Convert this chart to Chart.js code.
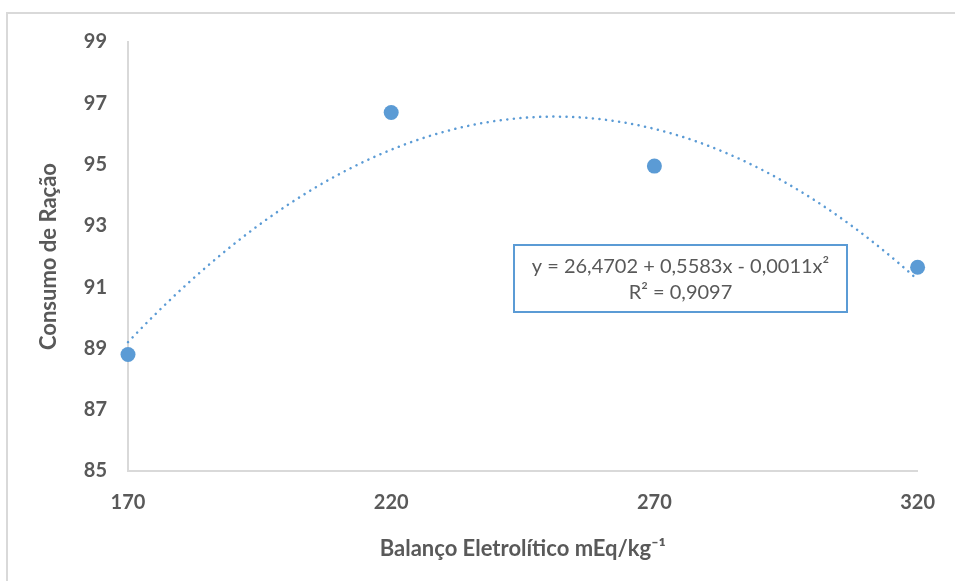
<!DOCTYPE html>
<html>
<head>
<meta charset="utf-8">
<script src="https://cdn.jsdelivr.net/npm/chart.js@4"></script>
<style>
  html, body { margin: 0; padding: 0; background: #ffffff; }
  #wrap { width: 955px; height: 581px; position: relative; }
  canvas { display: block; }
</style>
</head>
<body>
<div id="wrap"><canvas id="c" width="955" height="581"></canvas></div>
<script>
// ---- data ----
const balanco = [170, 220, 270, 320];
const consumo = [88.8, 96.7, 94.95, 91.65];
const yTicks = [85, 87, 89, 91, 93, 95, 97, 99];
const xTicks = [170, 220, 270, 320];
const xTitle = 'Balanço Eletrolítico mEq/kg⁻¹';
const yTitle = 'Consumo de Ração';
const eqLine1 = 'y = 26,4702 + 0,5583x - 0,0011x²';
const eqLine2 = 'R² = 0,9097';

// ---- least-squares quadratic (the trendline of the reference) ----
function quadFit(xs, ys) {
  const n = xs.length;
  let s = [0, 0, 0, 0, 0], t = [0, 0, 0];
  for (let i = 0; i < n; i++) {
    let p = 1;
    for (let k = 0; k < 5; k++) { s[k] += p; if (k < 3) t[k] += p * ys[i]; p *= xs[i]; }
  }
  const M = [[s[0], s[1], s[2], t[0]], [s[1], s[2], s[3], t[1]], [s[2], s[3], s[4], t[2]]];
  for (let i = 0; i < 3; i++) {
    for (let j = i + 1; j < 3; j++) {
      const f = M[j][i] / M[i][i];
      for (let k = i; k < 4; k++) M[j][k] -= f * M[i][k];
    }
  }
  const c = [0, 0, 0];
  for (let i = 2; i >= 0; i--) {
    let v = M[i][3];
    for (let k = i + 1; k < 3; k++) v -= M[i][k] * c[k];
    c[i] = v / M[i][i];
  }
  return c;
}
const coef = quadFit(balanco, consumo);
const trend = [];
const xMin = balanco[0], xMax = balanco[balanco.length - 1];
for (let i = 0; i <= 80; i++) {
  const x = xMin + (xMax - xMin) * i / 80;
  trend.push({ x: x, y: coef[0] + coef[1] * x + coef[2] * x * x });
}
const points = balanco.map((x, i) => ({ x: x, y: consumo[i] }));

const BLUE = '#5B9BD5';
const GREY_TXT = '#595959';
const AXIS = '#D9D9D9';
const FONT = 'Lato, Carlito, Calibri, sans-serif';

const frame = {
  id: 'frame',
  beforeDraw(chart) {
    const ctx = chart.ctx;
    ctx.save();
    ctx.fillStyle = '#ffffff';
    ctx.fillRect(0, 0, chart.width, chart.height);
    ctx.strokeStyle = '#D9D9D9';
    ctx.lineWidth = 2;
    ctx.beginPath();
    ctx.moveTo(7, chart.height);
    ctx.lineTo(7, 13);
    ctx.lineTo(chart.width, 13);
    ctx.stroke();
    ctx.restore();
  },
  afterDatasetsDraw(chart) {
    const ctx = chart.ctx;
    const a = chart.chartArea;
    // equation box, positioned relative to plot area
    const bx = a.left + 386, by = a.top + 203, bw = 333, bh = 67;
    ctx.save();
    ctx.fillStyle = '#ffffff';
    ctx.fillRect(bx, by, bw, bh);
    ctx.strokeStyle = BLUE;
    ctx.lineWidth = 2;
    ctx.strokeRect(bx, by, bw, bh);
    ctx.fillStyle = GREY_TXT;
    ctx.font = '20px ' + FONT;
    ctx.textAlign = 'center';
    ctx.textBaseline = 'middle';
    ctx.fillText(eqLine1, bx + bw / 2, by + 22);
    ctx.fillText(eqLine2, bx + bw / 2, by + 48);
    ctx.restore();
  }
};

new Chart(document.getElementById('c'), {
  type: 'scatter',
  data: {
    datasets: [
      {
        label: 'Tendência',
        data: trend,
        showLine: true,
        borderColor: BLUE,
        borderWidth: 2.5,
        borderDash: [0.1, 6.5],
        borderCapStyle: 'round',
        pointRadius: 0,
        fill: false,
        tension: 0,
        clip: false,
        order: 2
      },
      {
        label: 'Consumo',
        data: points,
        pointRadius: 7.5,
        pointHoverRadius: 7.5,
        pointBackgroundColor: BLUE,
        pointBorderColor: BLUE,
        borderWidth: 0,
        clip: false,
        order: 1
      }
    ]
  },
  options: {
    responsive: false,
    animation: false,
    events: [],
    layout: { padding: { left: 0, top: 42, right: 35, bottom: 0 } },
    plugins: { legend: { display: false }, tooltip: { enabled: false } },
    scales: {
      x: {
        type: 'linear',
        min: xTicks[0],
        max: xTicks[xTicks.length - 1],
        afterBuildTicks(scale) { scale.ticks = xTicks.map(v => ({ value: v })); },
        afterFit(scale) { scale.height = 110; },
        grid: { display: false, drawTicks: false },
        border: { display: true, color: AXIS, width: 2 },
        ticks: {
          padding: 20,
          color: GREY_TXT,
          font: { family: FONT, size: 20, weight: 'bold' },
          maxRotation: 0
        },
        title: {
          display: true,
          text: xTitle,
          color: GREY_TXT,
          font: { family: FONT, size: 22, weight: 'bold' },
          padding: { top: 0, bottom: 19 }
        }
      },
      y: {
        type: 'linear',
        min: yTicks[0],
        max: yTicks[yTicks.length - 1],
        afterBuildTicks(scale) { scale.ticks = yTicks.map(v => ({ value: v })); },
        afterFit(scale) { scale.width = 128; },
        grid: { display: false, drawTicks: false },
        border: { display: true, color: AXIS, width: 2 },
        ticks: {
          padding: 21,
          color: GREY_TXT,
          font: { family: FONT, size: 20, weight: 'bold' }
        },
        title: {
          display: true,
          text: yTitle,
          color: GREY_TXT,
          font: { family: FONT, size: 22, weight: 'bold' },
          padding: { top: 36, bottom: 0 }
        }
      }
    }
  },
  plugins: [frame]
});
</script>
</body>
</html>
